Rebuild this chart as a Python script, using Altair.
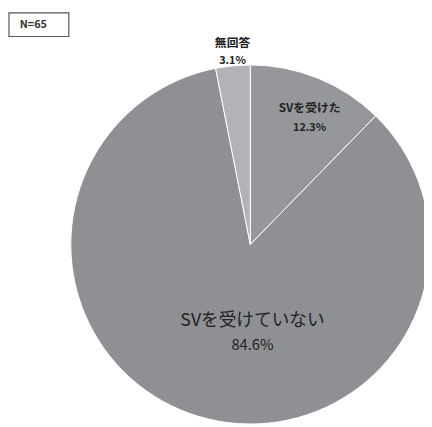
import altair as alt
import pandas as pd

categories = ["SVを受けた", "SVを受けていない", "無回答"]
values = [12.3, 84.6, 3.1]
labels = ["12.3%", "84.6%", "3.1%"]
order = [1, 2, 3]
colors = ["#96979b", "#8f9094", "#b2b3b6"]
note = "N=65"

df = pd.DataFrame({"cat": categories, "val": values, "lab": labels, "ord": order})

CX, CY, R = 247, 237, 183
FONT = "Noto Sans CJK JP"
DOMAIN = [0, 100]

pie = alt.Chart(df).mark_arc(radius=R, stroke="white", strokeWidth=1).encode(
    theta=alt.Theta("val:Q", stack=True, sort=None, scale=alt.Scale(domain=DOMAIN)),
    order=alt.Order("ord:Q"),
    x=alt.value(CX),
    y=alt.value(CY),
    color=alt.Color("cat:N", scale=alt.Scale(domain=categories, range=colors), legend=None),
)

lab_base = alt.Chart(df).transform_window(
    cum="sum(val)", sort=[alt.SortField("ord")], frame=[None, 0]
).transform_calculate(
    mid="datum.cum - datum.val / 2"
).encode(
    theta=alt.Theta("mid:Q", scale=alt.Scale(domain=DOMAIN)),
    x=alt.value(CX),
    y=alt.value(CY),
)

def label(cat, radius, dx, dy_name, dy_pct, size_name, size_pct, weight):
    b = lab_base.transform_filter(alt.datum.cat == cat)
    t1 = b.mark_text(radius=radius, dx=dx, dy=dy_name, font=FONT, fontSize=size_name,
                     fontWeight=weight, color="#222").encode(text="cat:N")
    t2 = b.mark_text(radius=radius, dx=dx, dy=dy_pct, font=FONT, fontSize=size_pct,
                     fontWeight=weight, color="#222").encode(text="lab:N")
    return t1 + t2

l1 = label("SVを受けた", 139, 8, -10, 10, 12, 11, "bold")
l2 = label("SVを受けていない", 94, 29, -12, 12, 18, 15, "normal")
l3 = label("無回答", 197, 1, -9, 9, 12, 11, "bold")

box = alt.Chart(pd.DataFrame({"n": [note]})).mark_rect(
    fill="white", stroke="#555", strokeWidth=1.2
).encode(x=alt.value(1), x2=alt.value(62), y=alt.value(1), y2=alt.value(25))
box_text = alt.Chart(pd.DataFrame({"n": [note]})).mark_text(
    font=FONT, fontSize=11, fontWeight="bold", color="#333", align="left"
).encode(x=alt.value(12), y=alt.value(13), text="n:N")

chart = alt.layer(pie, l1, l2, l3, box, box_text).properties(
    width=424, height=419, autosize="none", padding=0
).configure_view(stroke=None)

chart.save("out.html", embed_options={"renderer": "svg", "actions": False})
